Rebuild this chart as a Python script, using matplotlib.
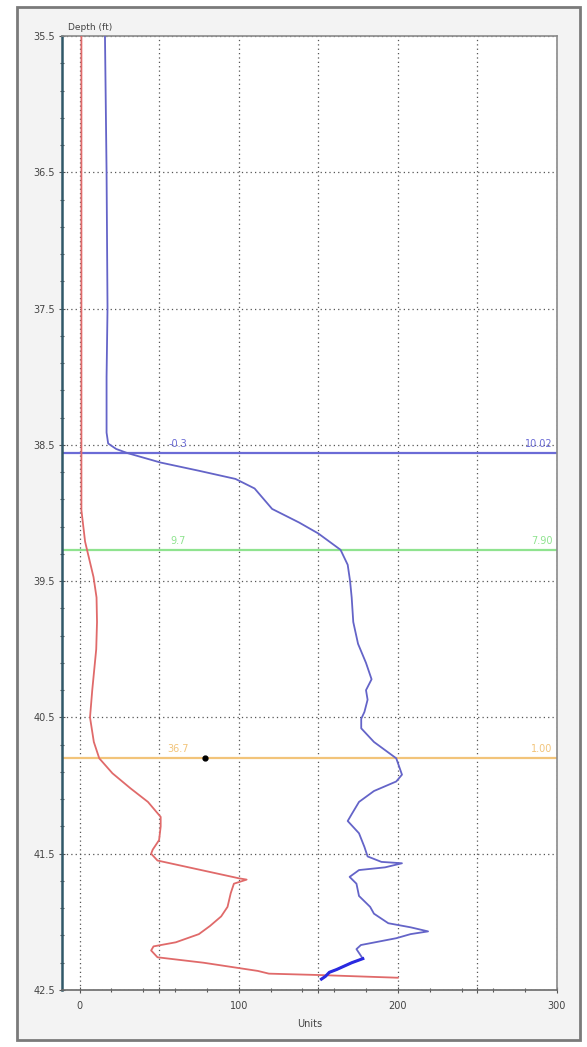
import numpy as np
import matplotlib.pyplot as plt
from matplotlib.patches import Rectangle
from matplotlib.ticker import MultipleLocator

# gas log curves (units vs depth in ft)
redDepth = [35.5, 38.98, 39.21, 39.47, 39.62, 39.8, 40.0, 40.3, 40.5, 40.68, 40.8, 40.91, 41.02,
            41.12, 41.23, 41.3, 41.4, 41.47, 41.5, 41.55, 41.68, 41.69, 41.72, 41.79, 41.89,
            41.96, 42.03, 42.09, 42.15, 42.18, 42.21, 42.26, 42.3, 42.36, 42.38, 42.39, 42.41]
redUnits = [1.2, 1.2, 3.5, 8.8, 10.7, 11.0, 10.5, 8.0, 6.6, 9.0, 12.4, 20.7, 32.0,
            43.0, 51.0, 51.0, 50.0, 46.0, 45.0, 49.0, 100.0, 105.0, 97.0, 95.0, 93.0,
            89.0, 82.0, 75.0, 60.5, 46.5, 45.0, 49.0, 78.0, 112.0, 119.0, 150.0, 200.0]

blueDepth = [35.5, 36.5, 37.5, 38.0, 38.41, 38.49, 38.53, 38.56, 38.63, 38.69, 38.75, 38.82,
             38.97, 39.07, 39.15, 39.27, 39.38, 39.5, 39.62, 39.8, 39.96, 40.1, 40.22, 40.3,
             40.37, 40.46, 40.51, 40.58, 40.68, 40.8, 40.92, 40.97, 41.04, 41.12, 41.21,
             41.26, 41.35, 41.45, 41.52, 41.56, 41.57, 41.6, 41.62, 41.67, 41.72, 41.81,
             41.89, 41.94, 42.01, 42.04, 42.07, 42.09, 42.12, 42.17, 42.2, 42.27, 42.3,
             42.35, 42.37, 42.4, 42.42]
blueUnits = [16.0, 17.0, 17.6, 17.0, 17.0, 18.0, 23.0, 30.0, 51.0, 75.0, 98.0, 110.0,
             121.0, 138.0, 150.0, 164.0, 168.5, 170.0, 171.0, 172.0, 175.0, 180.0, 183.5, 180.0,
             181.0, 179.0, 177.0, 177.0, 185.0, 199.0, 202.6, 199.0, 185.0, 175.6, 171.0,
             168.5, 175.6, 179.0, 181.0, 189.7, 202.6, 192.0, 175.6, 169.7, 174.0, 175.6,
             182.6, 185.0, 194.0, 208.0, 219.0, 208.0, 199.0, 176.8, 174.0, 178.0, 171.0,
             161.5, 157.0, 154.5, 152.0]

# horizontal marker lines: depth, left label, right label
markDepth = [38.56, 39.27, 40.8]
markLeft = ["-0.3", "9.7", "36.7"]
markRight = ["10.02", "7.90", "1.00"]
markColor = ["#6b6bd6", "#8fe38f", "#f2c47a"]

dotUnits = [79]
dotDepth = [40.8]

fig = plt.figure(figsize=(5.87, 10.47), dpi=100, facecolor="white")
fig.patches.append(Rectangle((17 / 587, 7 / 1047), 563 / 587, 1033 / 1047, transform=fig.transFigure,
                             facecolor="#f3f3f3", edgecolor="#7a7a7a", linewidth=2.0, zorder=-5))

ax = fig.add_axes([62 / 587, 1 - 990 / 1047, 495 / 587, 954 / 1047])
ax.set_facecolor("white")

for d, l, r, c in zip(markDepth, markLeft, markRight, markColor):
    ax.axhline(d, color=c, linewidth=1.6, zorder=2)
    ax.text(62, d - 0.03, l, color=c, fontsize=7, ha="center", va="bottom")
    ax.text(297, d - 0.03, r, color=c, fontsize=7, ha="right", va="bottom")

ax.plot(redUnits, redDepth, color="#e06a6a", linewidth=1.3, zorder=3)
ax.plot(blueUnits, blueDepth, color="#6464c8", linewidth=1.3, zorder=3)
ax.plot(blueUnits[-6:], blueDepth[-6:], color="#2a2ae0", linewidth=2.2, zorder=4)
ax.plot(dotUnits, dotDepth, "o", color="black", markersize=3.5, zorder=5)

ax.set_xlim(-11, 300)
ax.set_ylim(42.5, 35.5)

ax.set_xticks(np.arange(0, 301, 50))
ax.set_xticklabels(["0", "", "100", "", "200", "", "300"])
ax.xaxis.set_minor_locator(MultipleLocator(20))
ax.set_yticks(np.arange(35.5, 42.6, 1.0))
ax.set_yticklabels(["%.1f" % v for v in np.arange(35.5, 42.6, 1.0)])
ax.yaxis.set_minor_locator(MultipleLocator(0.2, offset=0.1))
ax.tick_params(which="both", direction="inout", length=4, width=0.8, colors="#555555",
               labelsize=7, labelcolor="#444444", pad=3)
ax.tick_params(axis="x", pad=6)
ax.tick_params(which="minor", length=3)
ax.grid(True, which="major", color="#555555", linestyle=(0, (1, 2.5)), linewidth=0.9)

for side in ["top", "right"]:
    ax.spines[side].set_color("#8a8a8a")
    ax.spines[side].set_linewidth(1.2)
ax.spines["left"].set_color("#305868")
ax.spines["left"].set_linewidth(1.8)
ax.spines["bottom"].set_color("#6a6a6a")
ax.spines["bottom"].set_linewidth(1.2)

ax.set_xlabel("Units", fontsize=7, color="#444444", labelpad=6)
fig.text(68 / 587, 1 - 27 / 1047, "Depth (ft)", fontsize=6.5, color="#444444", va="center")

fig.savefig("out.png", dpi=100, facecolor=fig.get_facecolor())
